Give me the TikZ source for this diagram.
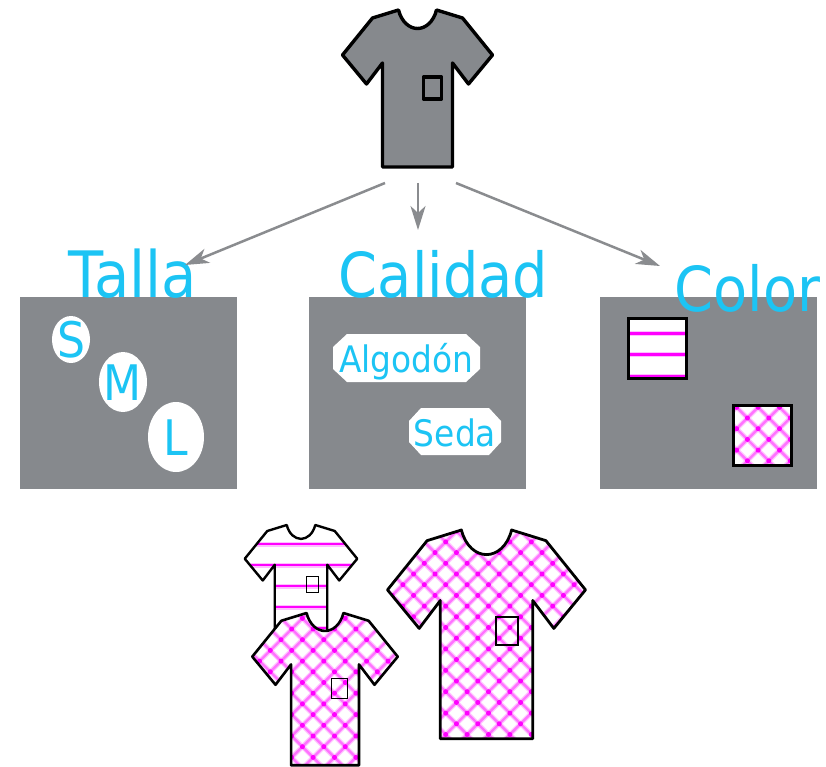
\documentclass[tikz,border=0pt]{standalone}
\usepackage{fontspec}
\setmainfont{DejaVu Sans}[FakeStretch=0.9]
\usetikzlibrary{arrows.meta,shapes.geometric}
\definecolor{panelgray}{HTML}{86898D}
\definecolor{labelcyan}{HTML}{1CC4F4}
\definecolor{arrowgray}{HTML}{8A8C8F}
\definecolor{stitch}{HTML}{FF00FF}
\tikzset{
  panel/.style={fill=panelgray,draw=none},
  link/.style={draw=arrowgray,line width=2.5pt,-{Stealth[length=24pt,width=15pt,inset=7pt]}},
  title/.style={text=labelcyan,font=\fontsize{62}{62}\selectfont,inner sep=0pt,anchor=base},
  sizebadge/.style={ellipse,fill=white,text=labelcyan,inner sep=0pt,font=\fontsize{49}{49}\selectfont},
  fabrictext/.style={text=labelcyan,inner sep=0pt,anchor=base,font=\fontsize{36.5}{37}\selectfont},
  outline/.style={draw=black,line join=round,line cap=round},
  swatch/.style={draw=black,line width=3pt}
}
\newcommand{\shirtshape}{(-19,0) .. controls (-16,12) and (-8,18.5) .. (0,18.5) .. controls (8,18.5) and (16,12) .. (19,0) -- (45,8) -- (75,45) -- (51,74) -- (35,53) -- (35,157) -- (-35,157) -- (-35,53) -- (-51,74) -- (-75,45) -- (-45,8) -- cycle}
\newcommand{\pocketshape}{(6,67) rectangle (24,89)}
\newcommand{\badgetext}[1]{\raisebox{-.37em}[0pt][0pt]{\makebox[0pt]{#1}}}
% octagon: left, top, right, bottom, chamfer x, chamfer y
\newcommand{\octagon}[6]{\fill[white] (#1+#5,#2) -- (#3-#5,#2) -- (#3,#2+#6) -- (#3,#4-#6) -- (#3-#5,#4) -- (#1+#5,#4) -- (#1,#4-#6) -- (#1,#2+#6) -- cycle;}
% stripes: first y, second y, last y, x range
\newcommand{\stripefill}[5]{%
  \foreach \yy in {#1,#2,...,#3}{
    \draw[stitch!25,line width=5pt] (#4,\yy) -- (#5,\yy);
    \draw[stitch,line width=2.6pt] (#4,\yy) -- (#5,\yy);
  }}
% checks: lattice origin x, y, half period
\newcommand{\checkfill}[3]{%
  \foreach \k in {-12,...,12}{
    \pgfmathsetmacro{\aa}{#1+2*\k*#3}
    \draw[stitch!22,line width=4.8pt] (\aa-220,#2-220) -- (\aa+220,#2+220);
    \draw[stitch!22,line width=4.8pt] (\aa+220,#2-220) -- (\aa-220,#2+220);
  }
  \foreach \k in {-12,...,12}{
    \pgfmathsetmacro{\aa}{#1+2*\k*#3}
    \draw[stitch!55,line width=2.4pt] (\aa-220,#2-220) -- (\aa+220,#2+220);
    \draw[stitch!55,line width=2.4pt] (\aa+220,#2-220) -- (\aa-220,#2+220);
  }
  \foreach \i in {-11,...,22}{
    \foreach \j in {-11,...,22}{
      \pgfmathtruncatemacro{\pp}{mod(abs(\i+\j),2)}
      \ifnum\pp=0
        \fill[stitch] (#1+\i*#3,#2+\j*#3) circle (2.5);
      \fi
    }
  }}
\begin{document}
\begin{tikzpicture}[x=1pt,y=-1pt]
\useasboundingbox (0,0) rectangle (826,767);
\fill[white] (0,0) rectangle (826,767);

% top shirt
\begin{scope}[shift={(417.5,10)}]
  \draw[outline,fill=panelgray,line width=3.4pt] \shirtshape;
  \draw[outline,line width=3.4pt] \pocketshape;
\end{scope}

% panels
\fill[panel] (20,297) rectangle (237,489);
\fill[panel] (309,297) rectangle (526,489);
\fill[panel] (600,297) rectangle (817,489);

% titles
\node[title,font=\fontsize{64}{64}\selectfont] (talla) at (133,297) {Talla};
\node[title] (calidad) at (443.5,297) {Calidad};
\node[title] (color) at (747.5,311) {Color};

% arrows
\coordinate (fromL) at (385,183);
\coordinate (toL) at (185,265);
\coordinate (fromM) at (418,183);
\coordinate (toM) at (418,230);
\coordinate (fromR) at (456,183);
\coordinate (toR) at (660,266);
\draw[link] (fromL) -- (toL);
\draw[link] (fromM) -- (toM);
\draw[link] (fromR) -- (toR);

% sizes
\node[sizebadge,minimum width=38pt,minimum height=47pt] (s) at (71,339.5) {\badgetext{S}};
\node[sizebadge,minimum width=48pt,minimum height=60pt] (m) at (123,382) {\badgetext{M}};
\node[sizebadge,minimum width=56pt,minimum height=70pt] (l) at (176,437) {\badgetext{L}};

% fabrics
\octagon{333}{334}{480}{382}{14}{13}
\octagon{409}{408}{501}{455}{12}{13}
\node[fabrictext] (algodon) at (406.5,372.5) {Algodón};
\node[fabrictext] (seda) at (455,446) {Seda};

% swatches
\fill[white] (628.5,318.5) rectangle (686.8,378.5);
\begin{scope}
  \clip (628.5,318.5) rectangle (686.8,378.5);
  \stripefill{333.3}{354.7}{376.5}{620}{695}
\end{scope}
\draw[swatch] (628.5,318.5) rectangle (686.8,378.5);
\fill[white] (733.3,405.3) rectangle (791.5,465.3);
\begin{scope}
  \clip (733.3,405.3) rectangle (791.5,465.3);
  \checkfill{736.7}{407.3}{10.7}
\end{scope}
\draw[swatch] (733.3,405.3) rectangle (791.5,465.3);

% striped small shirt
\fill[white,shift={(301,525)},scale=.75] \shirtshape;
\begin{scope}
  \clip[shift={(301,525)},scale=.75] \shirtshape;
  \stripefill{544}{565}{628.5}{230}{370}
\end{scope}
\draw[outline,line width=2.4pt,shift={(301,525)},scale=.75] \shirtshape;
\draw[black,line width=.9pt] (306.3,576.3) rectangle (318.3,592.3);

% checked medium shirt
\fill[white,shift={(325,613)},scale=.97] \shirtshape;
\begin{scope}
  \clip[shift={(325,613)},scale=.97] \shirtshape;
  \checkfill{291.7}{629}{10.7}
\end{scope}
\draw[outline,line width=2.6pt,shift={(325,613)},scale=.97] \shirtshape;
\draw[black,line width=.9pt] (331.7,678.3) rectangle (347.7,698.3);

% checked large shirt
\fill[white,shift={(486.5,530)},xscale=1.32,yscale=1.33] \shirtshape;
\begin{scope}
  \clip[shift={(486.5,530)},xscale=1.32,yscale=1.33] \shirtshape;
  \checkfill{424.3}{563.3}{10.7}
\end{scope}
\draw[outline,line width=2.8pt,shift={(486.5,530)},xscale=1.32,yscale=1.33] \shirtshape;
\draw[black,line width=2.8pt] (496,617) rectangle (518,645);
\end{tikzpicture}
\end{document}
